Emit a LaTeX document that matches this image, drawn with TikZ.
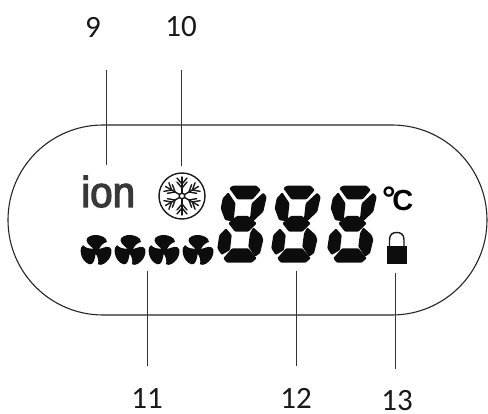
\documentclass[tikz,border=0pt]{standalone}
\usepackage{fontspec}
\setmainfont{Carlito}
\newfontfamily\lcdbold{Liberation Sans}[FakeBold=3]
\newfontfamily\unitfont{Liberation Sans Bold}
\begin{document}
\begin{tikzpicture}[x=1pt,y=-1pt,
  leader/.style={draw=black!80,line width=0.9pt},
  callout/.style={inner sep=0pt,text=black!90,font=\fontsize{31}{31}\selectfont},
  panel/.style={draw=black!85,line width=1.1pt,rounded corners=95pt},
  lcdfill/.style={fill=black!95!white,draw=none},
  seg/.style={fill=black!95,draw=none,rounded corners=1pt},
  flake/.style={draw=black!90,line width=1.4pt,line cap=round},
  fanicon/.pic={
    \fill[lcdfill] (0,0) circle (3.5);
    \foreach \a in {0,120,240}{
      \fill[lcdfill,rotate=\a] (-1,0) .. controls (-3,-3) and (-9,-6) .. (-9.5,-10)
        .. controls (-10,-14) and (-3,-16) .. (1,-15.5)
        .. controls (5,-15) and (11,-13) .. (11,-8.5)
        .. controls (8,-8) and (4,-5) .. (2.5,0) -- cycle;
    }
  },
  lcddigit/.pic={
    \fill[seg] (339.3,188.3) -- (342.7,185.7) -- (366.7,185.7) -- (370.7,190) -- (362.7,199.3) -- (347.3,199.3) -- cycle;
    \fill[seg] (338.3,192.3) -- (345.5,203.3) -- (343.5,221.7) -- (335,220) -- (330.7,208.3) -- (332.7,198.3) -- cycle;
    \fill[seg] (373.3,192.7) -- (376.7,196.7) -- (373.3,211.7) -- (362.7,221.7) -- (360,218.3) -- (361.7,203.3) -- cycle;
    \fill[seg] (338.3,223.3) -- (346.7,216) -- (358.3,216) -- (366.7,223.3) -- (358.3,231.7) -- (345,231.7) -- cycle;
    \fill[seg] (336,228.3) -- (341.7,235) -- (340,250) -- (331.7,255) -- (327.3,248.3) -- (329.3,235) -- cycle;
    \fill[seg] (363.3,227.3) -- (371.7,235) -- (373.3,240) -- (370,253.3) -- (365,256.7) -- (358.3,246.7) -- (360,233.3) -- cycle;
    \fill[seg] (348.3,248.3) -- (358.3,248.3) -- (366.7,258.3) -- (361.7,262.7) -- (336.7,262.7) -- (333.3,258.3) -- (342,248.3) -- cycle;
  }]
\useasboundingbox (0,0) rectangle (488,414);
\fill[white] (0,0) rectangle (488,414);

% panel
\node[panel,minimum width=479pt,minimum height=190pt,inner sep=0pt] (lcd) at (247.5,220) {};

% callout numbers
\node[callout] (n9) at (93,27) {9};
\node[callout] (n10) at (181,27) {10};
\node[callout] (n11) at (147,399) {11};
\node[callout] (n12) at (296,398) {12};
\node[callout] (n13) at (397,401) {13};

% leader ends
\coordinate (a9) at (106,70);   \coordinate (b9) at (106,165);
\coordinate (a10) at (181,70);  \coordinate (b10) at (181,166);
\coordinate (a11) at (147,271); \coordinate (b11) at (147,366);
\coordinate (a12) at (296,271); \coordinate (b12) at (296,366);
\coordinate (a13) at (395,273); \coordinate (b13) at (395,369);
\foreach \k in {9,10,11,12,13}{\draw[leader] (a\k) -- (b\k);}

% ion
\node[inner sep=0pt,anchor=base west,text=black!78,xscale=0.94,
  font=\lcdbold\fontsize{43}{43}\selectfont] (ion) at (81,207) {ion};

% snowflake
\draw[draw=black!90,line width=1.4pt] (182,196) circle (23);
\draw[flake] (182,196) circle (2.8);
\foreach \a in {30,90,...,330}{
  \begin{scope}[shift={(182,196)},rotate=\a]
    \draw[flake] (3,0) -- (19,0);
    \draw[flake] (8,0) -- (14,-5) (8,0) -- (14,5);
    \draw[flake] (12,0) -- (18,-5) (12,0) -- (18,5);
  \end{scope}
}

% fans
\foreach \x in {96,130,164,198}{\pic at (\x,250.5) {fanicon};}

% digits
\foreach \d in {-110,-56,0}{\pic at (\d,0) {lcddigit};}

% unit
\node[inner sep=0pt,anchor=base west,font=\unitfont\fontsize{29}{29}\selectfont] (unit) at (382,210.5) {\fontsize{34}{34}\selectfont °\kern-3.5pt\fontsize{29}{29}\selectfont C};

% lock
\fill[black!95] (387,246) rectangle (407,264);
\draw[black!90,line width=1.4pt] (389.5,247) -- (389.5,240) .. controls (389.5,234) and (393,232.5) .. (396.8,232.5) .. controls (400.5,232.5) and (404,234) .. (404,240) -- (404,247);
\end{tikzpicture}
\end{document}
